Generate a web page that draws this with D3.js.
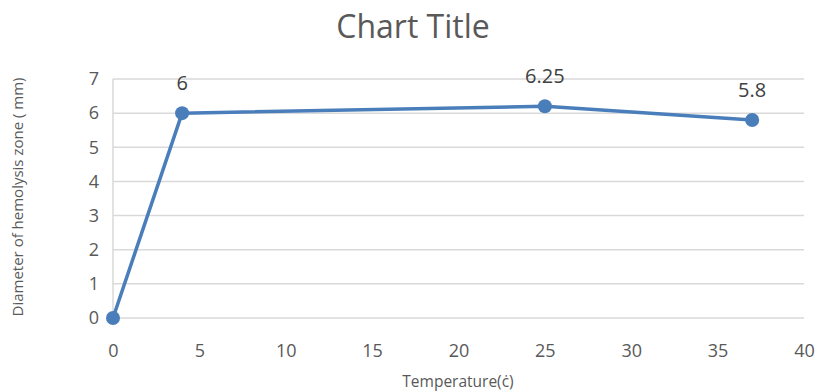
<!DOCTYPE html>
<html><head><meta charset="utf-8">
<script src="https://cdn.jsdelivr.net/npm/d3@7"></script>
<style>body{margin:0;background:#fff}svg{display:block}text{font-family:"Open Sans",sans-serif}</style>
</head><body>
<script>
const temperatures = [0, 4, 25, 37];
const diameters = [0, 6, 6.2, 5.8];
const dataLabels = ["", "6", "6.25", "5.8"];
const xTicks = [0, 5, 10, 15, 20, 25, 30, 35, 40];
const yTicks = [0, 1, 2, 3, 4, 5, 6, 7];
const title = "Chart Title";
const xTitle = "Temperature(ċ)";
const yTitle = "Diameter of hemolysis zone ( mm)";

const W = 820, H = 392;
const svg = d3.select("body").append("svg").attr("width", W).attr("height", H);
const x = d3.scaleLinear().domain([0, 40]).range([113, 804]);
const y = d3.scaleLinear().domain([0, 7]).range([318, 79]);

// gridlines
svg.append("g").selectAll("line").data(yTicks).join("line")
  .attr("x1", x(0)).attr("x2", x(40)).attr("y1", d => y(d)).attr("y2", d => y(d))
  .attr("stroke", "#d9d9d9").attr("stroke-width", 1.5);
// y axis line
svg.append("line").attr("x1", x(0)).attr("x2", x(0)).attr("y1", y(0)).attr("y2", y(7))
  .attr("stroke", "#d9d9d9").attr("stroke-width", 1.5);

// axes
const xAxis = svg.append("g").attr("transform", `translate(0,${y(0)})`)
  .call(d3.axisBottom(x).tickValues(xTicks).tickSize(0).tickPadding(26).tickFormat(d3.format("d")));
xAxis.select(".domain").remove();
xAxis.selectAll("text").attr("fill", "#595959").style("font-size", "18px").style("font-family", '"Open Sans",sans-serif');

const yAxis = svg.append("g").attr("transform", `translate(${x(0)},0)`)
  .call(d3.axisLeft(y).tickValues(yTicks).tickSize(0).tickPadding(14).tickFormat(d3.format("d")));
yAxis.select(".domain").remove();
yAxis.selectAll("text").attr("fill", "#595959").style("font-size", "18px").style("font-family", '"Open Sans",sans-serif');

// line
const pts = temperatures.map((t, i) => ({t, v: diameters[i], l: dataLabels[i]}));
svg.append("path").datum(pts)
  .attr("d", d3.line().x(d => x(d.t)).y(d => y(d.v)))
  .attr("fill", "none").attr("stroke", "#4a7ebb").attr("stroke-width", 3.5).attr("stroke-linejoin", "round");
svg.append("g").selectAll("circle").data(pts).join("circle")
  .attr("cx", d => x(d.t)).attr("cy", d => y(d.v)).attr("r", 7).attr("fill", "#4a7ebb");
svg.append("g").selectAll("text").data(pts).join("text")
  .attr("x", d => x(d.t)).attr("y", d => y(d.v) - 23).attr("text-anchor", "middle")
  .attr("fill", "#404040").style("font-size", "20px").text(d => d.l);

// titles
svg.append("text").attr("x", 413).attr("y", 38).attr("text-anchor", "middle")
  .attr("fill", "#595959").style("font-size", "32px").text(title);
svg.append("text").attr("x", 458).attr("y", 387).attr("text-anchor", "middle")
  .attr("fill", "#595959").style("font-size", "15.5px").text(xTitle);
svg.append("text").attr("transform", "translate(23,197) rotate(-90)").attr("text-anchor", "middle")
  .attr("fill", "#595959").style("font-size", "15px").text(yTitle);
</script>
</body></html>
